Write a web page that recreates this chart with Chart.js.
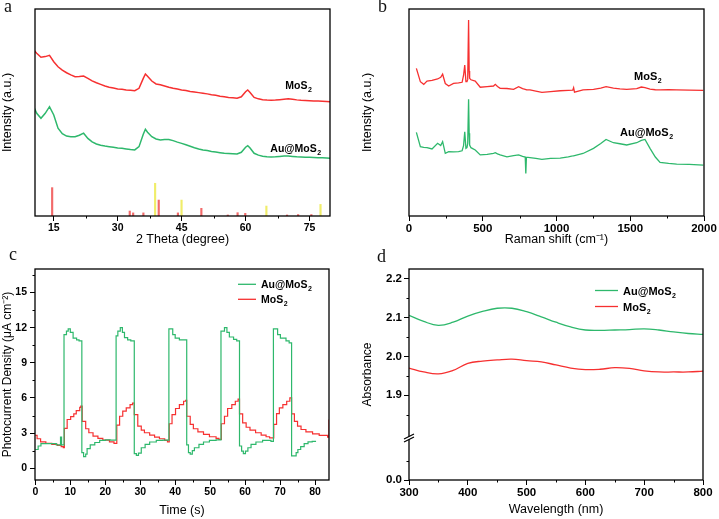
<!DOCTYPE html>
<html>
<head>
<meta charset="utf-8">
<script src="https://cdn.jsdelivr.net/npm/chart.js@4.4.1/dist/chart.umd.min.js"></script>
<style>
body { margin: 0; background: #fff; width: 719px; height: 519px; position: relative; overflow: hidden; }
canvas { position: absolute; }
.tag { position: absolute; font-family: "Liberation Serif", "Times New Roman", serif; font-size: 18px; line-height: 1; color: #111; }
</style>
</head>
<body>
<canvas id="chartA" width="360" height="255" style="left:0;top:0"></canvas>
<canvas id="chartB" width="359" height="255" style="left:360px;top:0"></canvas>
<canvas id="chartC" width="360" height="264" style="left:0;top:255px"></canvas>
<canvas id="chartD" width="359" height="264" style="left:360px;top:255px"></canvas>
<div class="tag" style="left:4px;top:-3px">a</div>
<div class="tag" style="left:378px;top:-3px">b</div>
<div class="tag" style="left:9px;top:245px">c</div>
<div class="tag" style="left:377px;top:247px">d</div>
<script>
// ---- a: XRD ----
const xrdAngle = [10,11,12,13,14,15,16,17,18,19,20,21,22,23,24,25,26,27,28,29,30,31,32,33,34,35,36,36.5,37,38,39,40,41,42,43,44,45,46,47,48,49,50,51,52,53,54,55,56,57,58,59,60,60.5,61,62,63,64,65,66,67,68,69,70,71,72,73,74,75,76,77,78,79,80];
const xrdMoS2 = [81.0,78.6,76.7,77.0,77.6,74.5,72.1,70.5,69.2,68.2,67.3,67.4,67.6,66.5,65.3,64.4,63.6,62.8,62.2,61.8,61.4,61.2,60.9,60.7,60.5,61.7,66.5,68.6,67.5,65.2,63.8,63.4,62.8,62.2,61.7,61.3,60.9,60.6,60.2,59.9,59.6,59.3,59.0,58.6,58.3,57.9,57.6,57.3,57.1,56.9,57.6,60.0,60.9,59.8,57.3,56.6,56.2,56.0,55.9,56.0,56.2,56.4,56.6,56.4,56.1,55.9,55.8,55.7,55.6,55.5,55.4,55.3,55.2];
const xrdAuMoS2 = [54.1,49.6,47.2,49.6,52.8,48.8,42.4,39.8,38.6,38.3,38.3,39.0,40.0,37.5,35.8,34.8,34.2,33.8,33.5,33.2,32.9,32.7,32.4,32.1,31.9,33.5,39.5,41.9,40.5,38.3,37.2,36.7,37.0,37.0,36.4,35.7,35.1,34.4,33.7,33.0,32.4,31.9,31.6,31.2,30.9,30.6,30.3,30.2,30.1,30.0,30.8,33.2,34.0,33.0,30.3,29.4,28.9,28.6,28.5,28.6,28.8,29.0,29.0,28.8,28.6,28.5,28.4,28.4,28.3,28.2,28.1,28.0,27.9];
const refMoS2Pos = [14.8,33.0,33.8,36.2,39.8,44.3,49.8,56.0,58.3,60.1,69.9,72.5,75.6];
const refMoS2Int = [13.7,2.4,1.5,1.5,7.7,1.5,3.7,0.5,1.6,1.3,0.5,0.7,0.7];
const refAuPos = [38.6,44.8,64.7,77.4];
const refAuInt = [15.8,7.7,4.8,5.6];
const xrdTicks = [15,30,45,60,75];

// ---- b: Raman ----
const ramanShift = [50,77,100,122,156,194,215,228,246,269,302,336,360,370,378,386,393,398,404,408,411,420,449,483,530,573,585,600,618,664,709,743,770,788,792,796,820,860,901,960,1025,1080,1110,1116,1122,1180,1251,1300,1336,1386,1430,1476,1544,1575,1600,1634,1670,1702,1760,1815,1900,1995];
const ramanMoS2 = [71.3,64.9,63.6,65.2,65.5,66.2,67.0,68.5,64.0,62.8,64.1,64.3,64.6,68.0,72.9,64.9,64.9,66.0,94.7,70.0,66.5,65.8,65.2,62.2,62.5,62.8,63.6,62.6,61.7,61.6,61.2,62.5,61.5,61.2,61.1,61.0,60.9,60.3,59.7,60.1,60.5,60.7,60.8,62.0,59.8,60.9,61.2,61.8,62.5,61.8,61.4,61.2,61.5,62.3,62.0,61.3,61.0,60.9,61.0,60.9,60.8,60.7];
const ramanAuMoS2 = [40.4,33.5,33.2,33.0,32.4,35.1,34.0,35.9,30.3,31.1,31.0,31.1,31.5,34.0,40.7,32.7,33.0,35.0,56.4,40.0,34.3,33.0,31.9,29.5,29.8,30.3,30.6,30.0,29.5,28.6,29.2,29.5,28.8,28.5,20.6,28.4,28.2,27.8,27.4,27.8,28.0,28.6,29.0,29.1,29.2,30.2,32.7,35.0,37.0,35.4,34.9,34.3,35.4,36.5,37.0,32.7,28.5,25.9,25.4,25.1,24.9,24.6];
const ramanTicks = [0,500,1000,1500,2000];

// ---- c: photocurrent ----
const auTime = [0,0.8,1.6,6.0,7.2,7.5,8.2,8.9,9.4,10.0,10.8,11.8,12.5,13.3,13.8,14.4,14.8,15.7,17.0,18.4,20.0,21.5,23.1,23.6,24.3,24.9,25.5,26.4,27.3,28.3,28.9,29.5,30.3,31.4,32.7,34.6,36.5,38.2,39.3,40.0,41.2,43.3,43.8,44.3,44.9,45.5,46.8,48.1,49.8,51.7,53.1,54.1,54.8,55.5,56.7,57.6,58.4,59.0,59.5,60.1,60.8,61.7,63.1,65.0,67.4,68.1,69.3,70.1,71.7,72.6,73.3,74.6,75.1,75.9,76.9,78.0,79.2,80.3];
const auCurrent = [1.6,1.9,2.1,2.0,2.66,2.0,11.4,11.7,11.9,11.6,11.1,10.95,10.87,1.33,1.0,1.2,1.67,2.0,2.2,2.38,2.43,2.4,11.3,11.7,12.0,11.6,11.15,10.95,10.87,1.25,1.1,1.3,1.75,2.04,2.24,2.38,2.4,11.9,11.4,11.1,10.95,2.0,1.33,1.2,1.5,1.75,2.04,2.24,2.38,2.43,11.7,12.0,11.6,11.2,11.0,10.87,1.9,1.47,1.25,1.47,1.75,2.04,2.24,2.38,2.3,11.9,11.4,11.1,10.87,10.7,1.05,1.33,1.6,1.84,2.1,2.26,2.3,2.3];
const moTime = [0,0.5,1.5,3.0,4.7,6.3,7.4,8.0,8.3,9.1,10.1,11.0,11.7,12.7,13.0,13.4,14.4,15.3,16.5,17.9,19.3,21.2,22.5,23.3,24.1,25.0,26.0,27.1,27.8,28.3,29.3,30.3,31.2,32.7,34.1,35.5,37.0,37.8,38.3,39.1,40.1,41.2,42.4,43.0,43.3,44.3,45.2,46.5,48.1,49.8,51.7,52.5,53.2,54.1,55.0,56.2,57.2,58.0,58.4,59.3,60.3,61.4,63.0,64.6,66.0,67.0,68.2,69.0,69.8,70.8,71.9,72.8,73.3,74.1,75.0,76.0,77.4,79.3,81.2,83.6,84.0];
const moCurrent = [2.8,2.52,2.26,2.12,2.04,1.95,1.84,1.75,3.4,4.16,4.4,4.64,4.92,5.2,5.3,4.0,3.37,3.03,2.74,2.55,2.4,2.26,2.12,3.68,4.44,4.87,5.15,5.43,5.57,4.58,3.6,3.25,3.03,2.83,2.66,2.52,2.38,2.26,3.8,4.58,5.1,5.43,5.72,5.8,4.44,3.74,3.37,3.11,2.89,2.69,2.55,2.46,3.8,4.44,5.1,5.43,5.72,5.9,4.64,3.88,3.5,3.25,3.03,2.83,2.69,2.6,3.74,4.67,5.15,5.43,5.72,6.0,4.64,4.0,3.6,3.31,3.11,2.94,2.8,2.66,4.16];
const timeTicks = [0,10,20,30,40,50,60,70,80];
const currentTicks = [0,3,6,9,12,15];

// ---- d: absorbance ----
const wavelength = [300,325,350,375,400,425,450,475,500,525,550,575,600,625,650,675,700,725,750,775,800];
const absAuMoS2 = [2.106,2.090,2.080,2.088,2.104,2.116,2.124,2.124,2.115,2.102,2.088,2.076,2.068,2.067,2.068,2.069,2.071,2.068,2.063,2.059,2.057];
const absMoS2 = [1.970,1.960,1.955,1.964,1.982,1.988,1.991,1.993,1.989,1.986,1.978,1.970,1.966,1.967,1.971,1.969,1.963,1.960,1.960,1.960,1.962];
const wlTicks = [300,400,500,600,700,800];
const absTicksTop = [1.9,2.0,2.1,2.2];
const absTicksLow = [0.0];

const RED = 'rgb(246,48,48)';
const GREEN = 'rgb(46,184,108)';
const FONT = '"Liberation Sans", Arial, sans-serif';

function pts(xs, ys) { return xs.map((x, i) => ({x: x, y: ys[i]})); }

function drawSub(ctx, x, y, text, sub, size) {
  ctx.font = 'bold ' + size + 'px ' + FONT;
  ctx.textBaseline = 'alphabetic';
  ctx.textAlign = 'left';
  ctx.fillText(text, x, y);
  let w = ctx.measureText(text).width;
  ctx.font = 'bold ' + Math.round(size * 0.68) + 'px ' + FONT;
  ctx.fillText(sub, x + w + 0.5, y + 3);
}

// box, minor ticks, text labels, legend, axis break
const extras = {
  id: 'extras',
  afterDraw(chart, args, opt) {
    const ctx = chart.ctx, a = chart.chartArea;
    ctx.save();
    ctx.strokeStyle = '#000';
    ctx.lineWidth = 1.3;
    ctx.strokeRect(a.left, a.top, a.right - a.left, a.bottom - a.top);
    ctx.lineWidth = 1;
    (opt.minor || []).forEach(m => {
      const sc = chart.scales[m.axis];
      for (let v = m.from; v <= m.to + 1e-9; v += m.step) {
        const p = Math.round(sc.getPixelForValue(v)) + 0.5;
        ctx.beginPath();
        if (sc.isHorizontal()) { ctx.moveTo(p, a.bottom); ctx.lineTo(p, a.bottom + 2.5); }
        else { ctx.moveTo(a.left, p); ctx.lineTo(a.left - 2.5, p); }
        ctx.stroke();
      }
    });
    ctx.fillStyle = '#000';
    (opt.labels || []).forEach(l => {
      const x = chart.scales.x.getPixelForValue(l.x);
      const y = chart.scales.y.getPixelForValue(l.y);
      drawSub(ctx, x, y, l.text, l.sub, l.size);
    });
    (opt.legend || []).forEach((l, i) => {
      const y = a.top + l.top;
      ctx.strokeStyle = l.color;
      ctx.lineWidth = 1.3;
      ctx.beginPath();
      ctx.moveTo(a.right - l.right, y);
      ctx.lineTo(a.right - l.right + l.len, y);
      ctx.stroke();
      ctx.fillStyle = '#000';
      drawSub(ctx, a.right - l.right + l.len + 5, y + 4, l.text, l.sub, l.size);
    });
    if (opt.yTitle) {
      // title centred on the whole broken axis
      ctx.save();
      ctx.translate(opt.yTitle.x, (a.top + a.bottom) / 2);
      ctx.rotate(-Math.PI / 2);
      ctx.fillStyle = '#000';
      ctx.font = opt.yTitle.size + 'px ' + FONT;
      ctx.textAlign = 'center';
      ctx.textBaseline = 'middle';
      ctx.fillText(opt.yTitle.text, 0, 0);
      ctx.restore();
    }
    if (opt.breakAt) {
      const y = chart.scales[opt.breakAt].bottom;
      const x = a.left;
      ctx.fillStyle = '#fff';
      ctx.beginPath();
      ctx.moveTo(x - 5, y + 1); ctx.lineTo(x + 5, y - 4); ctx.lineTo(x + 5, y - 1); ctx.lineTo(x - 5, y + 4);
      ctx.closePath(); ctx.fill();
      ctx.strokeStyle = '#000';
      ctx.lineWidth = 1.2;
      ctx.beginPath();
      ctx.moveTo(x - 5, y + 1); ctx.lineTo(x + 5, y - 4);
      ctx.moveTo(x - 5, y + 4); ctx.lineTo(x + 5, y - 1);
      ctx.stroke();
    }
    ctx.restore();
  }
};

function xAxis(min, max, ticks, title, size, titlePad, axisH) {
  return {
    type: 'linear', min: min, max: max, offset: false,
    afterBuildTicks: s => { s.ticks = ticks.map(v => ({value: v})); },
    afterFit: s => { s.height = axisH; },
    grid: { display: true, drawOnChartArea: false, offset: false, tickLength: 5, color: '#000', lineWidth: 1 },
    border: { display: false },
    ticks: { color: '#000', padding: 1, maxRotation: 0, autoSkip: false, callback: v => String(v),
             font: { family: FONT, size: size, weight: 'bold' } },
    title: { display: true, text: title, color: '#000', padding: { top: 0, bottom: titlePad }, font: { family: FONT, size: 12.5 } }
  };
}

function yTitle(text, size) {
  return { display: true, text: text, color: '#000', padding: { top: 0, bottom: 0 }, font: { family: FONT, size: size || 12.5 } };
}

const base = {
  responsive: false,
  animation: false,
  plugins: { legend: { display: false }, tooltip: { enabled: false } },
  elements: { point: { radius: 0 }, line: { tension: 0 } }
};

// ---- chart a ----
new Chart(document.getElementById('chartA'), {
  data: {
    datasets: [
      { type: 'bar', data: pts(refMoS2Pos, refMoS2Int), backgroundColor: 'rgba(240,80,80,0.85)', barThickness: 1.5 },
      { type: 'bar', data: pts(refAuPos, refAuInt), backgroundColor: 'rgba(238,235,90,0.9)', barThickness: 1.5 },
      { type: 'line', data: pts(xrdAngle, xrdMoS2), borderColor: RED, borderWidth: 1.5 },
      { type: 'line', data: pts(xrdAngle, xrdAuMoS2), borderColor: GREEN, borderWidth: 1.5 }
    ]
  },
  options: Object.assign({}, base, {
    layout: { padding: { top: 9, right: 30, left: 0, bottom: 0 } },
    scales: {
      x: xAxis(10.6, 79.8, xrdTicks, '2 Theta (degree)', 10.5, 8, 39),
      y: { min: 0, max: 100, afterFit: s => { s.width = 35; }, grid: { display: false }, border: { display: false },
           ticks: { display: false }, title: yTitle('Intensity (a.u.)') }
    },
    plugins: Object.assign({}, base.plugins, {
      extras: {
        minor: [{ axis: 'x', from: 22.5, to: 67.5, step: 15 }],
        labels: [
          { text: 'MoS', sub: '2', x: 69.3, y: 61.2, size: 10.5 },
          { text: 'Au@MoS', sub: '2', x: 65.8, y: 31.1, size: 10.5 }
        ]
      }
    })
  }),
  plugins: [extras]
});

// ---- chart b ----
new Chart(document.getElementById('chartB'), {
  type: 'line',
  data: {
    datasets: [
      { data: pts(ramanShift, ramanMoS2), borderColor: RED, borderWidth: 1.3 },
      { data: pts(ramanShift, ramanAuMoS2), borderColor: GREEN, borderWidth: 1.3 }
    ]
  },
  options: Object.assign({}, base, {
    layout: { padding: { top: 9, right: 15, left: 0, bottom: 0 } },
    scales: {
      x: xAxis(0, 2000, ramanTicks, 'Raman shift (cm\u207B\u00B9)', 11.5, 8, 39),
      y: { min: 0, max: 100, afterFit: s => { s.width = 49; }, grid: { display: false }, border: { display: false },
           ticks: { display: false }, title: yTitle('Intensity (a.u.)') }
    },
    plugins: Object.assign({}, base.plugins, {
      extras: {
        minor: [{ axis: 'x', from: 250, to: 1750, step: 500 }],
        labels: [
          { text: 'MoS', sub: '2', x: 1526, y: 65.7, size: 11 },
          { text: 'Au@MoS', sub: '2', x: 1431, y: 38.6, size: 11 }
        ]
      }
    })
  }),
  plugins: [extras]
});

// ---- chart c ----
new Chart(document.getElementById('chartC'), {
  type: 'line',
  data: {
    datasets: [
      { data: pts(auTime, auCurrent), borderColor: GREEN, borderWidth: 1.2, stepped: true },
      { data: pts(moTime, moCurrent), borderColor: RED, borderWidth: 1.2, stepped: true }
    ]
  },
  options: Object.assign({}, base, {
    layout: { padding: { top: 14, right: 31, left: 0, bottom: 0 } },
    scales: {
      x: xAxis(-0.1, 84, timeTicks, 'Time (s)', 10.5, 1, 39),
      y: { min: -1, max: 17,
           afterBuildTicks: s => { s.ticks = currentTicks.map(v => ({value: v})); },
           afterFit: s => { s.width = 35; },
           grid: { display: true, drawOnChartArea: false, tickLength: 5, color: '#000' }, border: { display: false },
           ticks: { color: '#000', padding: 3, font: { family: FONT, size: 10.5, weight: 'bold' } },
           title: yTitle('Photocurrent Density (\u03BCA cm\u207B\u00B2)', 12) }
    },
    plugins: Object.assign({}, base.plugins, {
      extras: {
        minor: [{ axis: 'x', from: 5, to: 75, step: 10 }, { axis: 'y', from: 1.5, to: 16.5, step: 3 }],
        legend: [
          { text: 'Au@MoS', sub: '2', color: GREEN, right: 91, len: 18, top: 15.3, size: 10.5 },
          { text: 'MoS', sub: '2', color: RED, right: 91, len: 18, top: 30.3, size: 10.5 }
        ]
      }
    })
  }),
  plugins: [extras]
});

// ---- chart d ----
new Chart(document.getElementById('chartD'), {
  type: 'line',
  data: {
    datasets: [
      { data: pts(wavelength, absAuMoS2), borderColor: GREEN, borderWidth: 1.3, tension: 0.4, yAxisID: 'y' },
      { data: pts(wavelength, absMoS2), borderColor: RED, borderWidth: 1.3, tension: 0.4, yAxisID: 'y' }
    ]
  },
  options: Object.assign({}, base, {
    layout: { padding: { top: 14, right: 16, left: 0, bottom: 0 } },
    scales: {
      x: xAxis(300, 800, wlTicks, 'Wavelength (nm)', 11.5, 1.5, 39),
      y0: { min: 0, max: 0.108, stack: 'abs', stackWeight: 0.108, position: 'left',
           afterBuildTicks: s => { s.ticks = absTicksLow.map(v => ({value: v})); },
           afterFit: s => { s.width = 49; },
           grid: { display: true, drawOnChartArea: false, tickLength: 5, color: '#000' }, border: { display: false },
           ticks: { color: '#000', padding: 2, callback: v => v.toFixed(1), font: { family: FONT, size: 11.5, weight: 'bold' } },
           title: { display: false } },
      y: { min: 1.79, max: 2.225, stack: 'abs', stackWeight: 0.435, position: 'left',
           afterBuildTicks: s => { s.ticks = absTicksTop.map(v => ({value: v})); },
           afterFit: s => { s.width = 49; },
           grid: { display: true, drawOnChartArea: false, tickLength: 5, color: '#000' }, border: { display: false },
           ticks: { color: '#000', padding: 2, callback: v => v.toFixed(1), font: { family: FONT, size: 11.5, weight: 'bold' } },
           title: { display: false } }
    },
    plugins: Object.assign({}, base.plugins, {
      extras: {
        minor: [{ axis: 'x', from: 350, to: 750, step: 100 }, { axis: 'y', from: 1.85, to: 2.15, step: 0.1 }, { axis: 'y0', from: 0.05, to: 0.05, step: 0.1 }],
        legend: [
          { text: 'Au@MoS', sub: '2', color: GREEN, right: 108, len: 23, top: 21.5, size: 11 },
          { text: 'MoS', sub: '2', color: RED, right: 108, len: 23, top: 37.5, size: 11 }
        ],
        yTitle: { text: 'Absorbance', x: 8, size: 12 },
        breakAt: 'y'
      }
    })
  }),
  plugins: [extras]
});
</script>
</body>
</html>
